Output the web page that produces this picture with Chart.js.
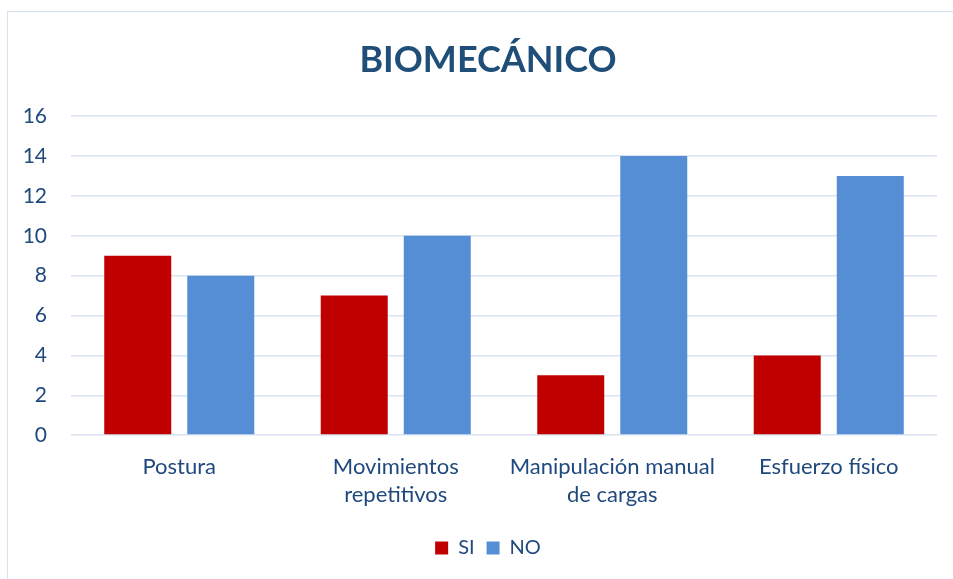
<!DOCTYPE html>
<html>
<head>
<meta charset="utf-8">
<script src="https://cdn.jsdelivr.net/npm/chart.js@4.4.0/dist/chart.umd.min.js"></script>
<style>
    html, body { margin: 0; padding: 0; background: #fff; }
    #wrap { position: relative; width: 953px; height: 579px; overflow: hidden; }
    #frame { position: absolute; left: 7px; top: 11px; width: 980px; height: 600px; border: 1px solid #D6E1F1; box-sizing: border-box; }
    #myChart { position: absolute; left: 0; top: 0; }
</style>
</head>
<body>
<div id="wrap">
    <div id="frame"></div>
    <canvas id="myChart" width="976" height="579"></canvas>
</div>
<script>
const categories = [['Postura'], ['Movimientos', 'repetitivos'], ['Manipulación manual', 'de cargas'], ['Esfuerzo físico']]
const siValues = [9, 7, 3, 4]
const noValues = [8, 10, 14, 13]
const seriesNames = ['SI', 'NO']
const titleText = 'BIOMECÁNICO'

const textColor = '#1F497D'
const fontFamily = 'Lato, "Noto Sans", sans-serif'

const ctx = document.getElementById('myChart').getContext('2d')
const myChart = new Chart(ctx, {
    type: 'bar',
    data: {
        labels: categories,
        datasets: [{
            label: seriesNames[0],
            data: siValues,
            backgroundColor: '#C00000',
            categoryPercentage: 0.767,
            barPercentage: 0.807
        }, {
            label: seriesNames[1],
            data: noValues,
            backgroundColor: '#558ED5',
            categoryPercentage: 0.767,
            barPercentage: 0.807
        }]
    },
    options: {
        responsive: false,
        animation: false,
        layout: {
            padding: { left: 0, right: 0, top: 39, bottom: 11 }
        },
        plugins: {
            title: {
                display: true,
                text: titleText,
                color: '#1F4E79',
                font: { family: fontFamily, size: 36, weight: 'bold' },
                padding: { top: 0, bottom: 34 }
            },
            legend: {
                position: 'bottom',
                labels: {
                    color: textColor,
                    font: { family: fontFamily, size: 20 },
                    boxWidth: 13,
                    boxHeight: 13,
                    padding: 12
                }
            },
            tooltip: { enabled: false }
        },
        scales: {
            x: {
                grid: { display: false },
                border: { display: false },
                afterFit: (scale) => { scale.height += 7 },
                ticks: {
                    color: textColor,
                    font: { family: fontFamily, size: 22, lineHeight: 1.27 },
                    maxRotation: 0,
                    padding: 10
                }
            },
            y: {
                min: 0,
                max: 16,
                afterFit: (scale) => { scale.width = 71 },
                grid: { color: '#D9E3F1', lineWidth: 1.5, drawTicks: false },
                border: { display: false },
                ticks: {
                    stepSize: 2,
                    color: textColor,
                    font: { family: fontFamily, size: 21 },
                    padding: 24
                }
            },
            // empty right-hand axis, only keeps room so the plot stops at the same place
            yRight: {
                position: 'right',
                min: 0,
                max: 16,
                afterFit: (scale) => { scale.width = 39 },
                grid: { display: false },
                border: { display: false },
                ticks: { display: false }
            }
        }
    }
})
</script>
</body>
</html>
